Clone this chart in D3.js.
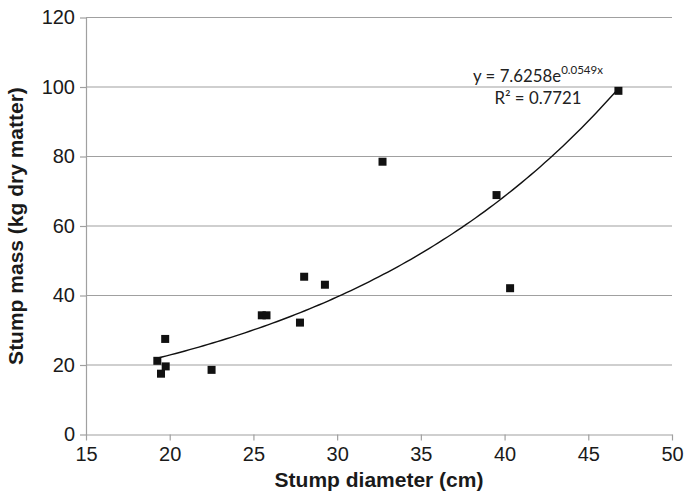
<!DOCTYPE html>
<html>
<head>
<meta charset="utf-8">
<script src="https://cdn.jsdelivr.net/npm/d3@7"></script>
<style>
  html, body { margin: 0; padding: 0; background: #fff; }
  svg { display: block; }
</style>
</head>
<body>
<svg id="chart" width="687" height="498"></svg>
<script>
// ---- data ----
const diameter = [19.26, 19.48, 19.73, 19.76, 22.5, 25.5, 25.78, 27.78, 28.03, 29.27, 32.71, 39.52, 40.33, 46.8];
const mass     = [21.2, 17.5, 27.5, 19.6, 18.6, 34.3, 34.3, 32.2, 45.4, 43.1, 78.5, 68.9, 42.1, 98.9];
const xTicks = [15, 20, 25, 30, 35, 40, 45, 50];
const yTicks = [0, 20, 40, 60, 80, 100, 120];
const trendCoef = [7.6258, 0.0549];   // y = a * e^(b x)
const trendLabel = ["y = 7.6258e", "0.0549x"];
const r2Label = "R² = 0.7721";

const svg = d3.select("#chart");
const x = d3.scaleLinear().domain([15, 50]).range([86, 672]);
const y = d3.scaleLinear().domain([0, 120]).range([434.5, 17.5]);
const gridColor = "#a0a0a0";

// gridlines
svg.append("g").selectAll("line").data(yTicks.filter(d => d > 0)).join("line")
  .attr("x1", x(15)).attr("x2", x(50))
  .attr("y1", d => y(d)).attr("y2", d => y(d))
  .attr("stroke", gridColor).attr("stroke-width", 1.2);

// x axis
const xAxis = svg.append("g").attr("transform", `translate(0,${y(0)})`)
  .call(d3.axisBottom(x).tickValues(xTicks).tickSize(6).tickSizeOuter(0).tickPadding(6));
xAxis.select(".domain").attr("stroke", gridColor).attr("stroke-width", 1.2);
xAxis.selectAll(".tick line").attr("stroke", gridColor).attr("stroke-width", 1.2);
xAxis.selectAll(".tick text").attr("font-family", "Liberation Sans, Arial, sans-serif")
  .attr("font-size", 20).attr("fill", "#1a1a1a");

// y axis
const yAxis = svg.append("g").attr("transform", `translate(${x(15)},0)`)
  .call(d3.axisLeft(y).tickValues(yTicks).tickSize(6).tickSizeOuter(0).tickPadding(5));
yAxis.select(".domain").attr("stroke", gridColor).attr("stroke-width", 1.2);
yAxis.selectAll(".tick line").attr("stroke", gridColor).attr("stroke-width", 1.2);
yAxis.selectAll(".tick text").attr("font-family", "Liberation Sans, Arial, sans-serif")
  .attr("font-size", 20).attr("fill", "#1a1a1a");

// trendline
const xMin = d3.min(diameter), xMax = d3.max(diameter);
const tx = d3.range(0, 101).map(i => xMin + (xMax - xMin) * i / 100);
svg.append("path")
  .datum(tx)
  .attr("d", d3.line().x(d => x(d)).y(d => y(trendCoef[0] * Math.exp(trendCoef[1] * d))))
  .attr("fill", "none").attr("stroke", "#111").attr("stroke-width", 1.4);

// points
const pts = diameter.map((d, i) => [d, mass[i]]);
svg.append("g").selectAll("rect").data(pts).join("rect")
  .attr("x", d => x(d[0]) - 4).attr("y", d => y(d[1]) - 4)
  .attr("width", 8).attr("height", 8).attr("fill", "#111");

// equation
const eq = svg.append("text").attr("x", 538).attr("y", 82)
  .attr("text-anchor", "middle")
  .attr("font-family", "Lato, 'Open Sans', sans-serif").attr("font-size", 16.8).attr("fill", "#222");
eq.append("tspan").text(trendLabel[0]);
eq.append("tspan").attr("dy", -8).attr("font-size", 11.5).text(trendLabel[1]);
svg.append("text").attr("x", 538).attr("y", 104)
  .attr("text-anchor", "middle")
  .attr("font-family", "Lato, 'Open Sans', sans-serif").attr("font-size", 16.8).attr("fill", "#222")
  .text(r2Label);

// axis titles
svg.append("text").attr("x", 379).attr("y", 487)
  .attr("text-anchor", "middle")
  .attr("font-family", "Liberation Sans, Arial, sans-serif").attr("font-weight", "bold")
  .attr("font-size", 21).attr("fill", "#1a1a1a")
  .text("Stump diameter (cm)");
svg.append("text").attr("transform", "translate(23,226) rotate(-90)")
  .attr("text-anchor", "middle")
  .attr("font-family", "Liberation Sans, Arial, sans-serif").attr("font-weight", "bold")
  .attr("font-size", 21).attr("fill", "#1a1a1a")
  .text("Stump mass (kg dry matter)");
</script>
</body>
</html>
